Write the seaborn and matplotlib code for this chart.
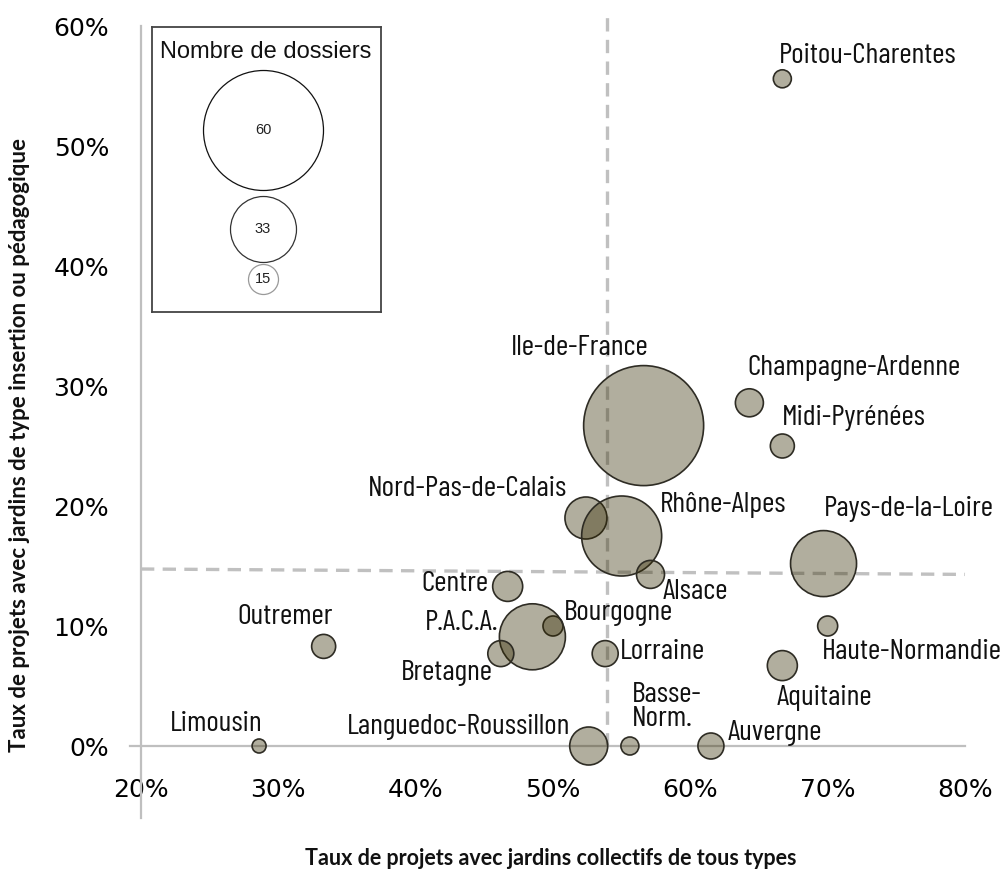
import numpy as np
import pandas as pd
import matplotlib
matplotlib.use("Agg")
import matplotlib.pyplot as plt
import seaborn as sns
from matplotlib.ticker import PercentFormatter

# data
regions = ["Poitou-Charentes", "Ile-de-France", "Champagne-Ardenne", "Midi-Pyrénées",
           "Nord-Pas-de-Calais", "Rhône-Alpes", "Pays-de-la-Loire", "Alsace", "Centre",
           "Bourgogne", "Outremer", "P.A.C.A.", "Lorraine", "Bretagne", "Haute-Normandie",
           "Aquitaine", "Basse-\nNorm.", "Auvergne", "Languedoc-Roussillon", "Limousin"]
taux_collectifs = [0.667, 0.566, 0.643, 0.667, 0.524, 0.550, 0.697, 0.571, 0.467, 0.500,
                   0.333, 0.485, 0.538, 0.462, 0.700, 0.667, 0.556, 0.615, 0.526, 0.286]
taux_insertion = [0.556, 0.267, 0.286, 0.250, 0.190, 0.175, 0.152, 0.143, 0.133, 0.100,
                  0.083, 0.091, 0.077, 0.077, 0.100, 0.067, 0.0, 0.0, 0.0, 0.0]
nb_dossiers = [9, 60, 14, 12, 21, 40, 33, 14, 15, 10, 12, 33, 13, 13, 10, 15, 9, 13, 19, 7]
legend_sizes = [60, 33, 15]
moyenne_x = 0.539
moyenne_y = [0.1475, 0.143]

# label placement (offset in pixels from bubble centre, alignment)
label_pos = [(-3, 23, "left"), (-64, 78, "center"), (-2, 35, "left"), (0, 28, "left"),
             (-19, 29, "right"), (38, 31, "left"), (0, 55, "left"), (12, -18, "left"),
             (-19, 2, "right"), (11, 13, "left"), (9, 29, "right"), (-34, 14, "right"),
             (15, 2, "left"), (-8, -19, "right"), (-6, -26, "left"), (-6, -32, "left"),
             (2, 39, "left"), (17, 13, "left"), (-18, 19, "right"), (-43, 22, "center")]

df = pd.DataFrame({"region": regions, "x": taux_collectifs, "y": taux_insertion,
                   "n": nb_dossiers})
df["n2"] = df["n"] ** 2

sns.set_style("white")
plt.rcParams["font.family"] = ["DejaVu Sans"]

narrow = ["Barlow Condensed", "Archivo Narrow", "DejaVu Sans"]
boldfam = ["Lato", "DejaVu Sans"]

W, H = 1002, 872
fig = plt.figure(figsize=(W / 100, H / 100), dpi=100)
ax = fig.add_axes([130 / W, 1 - 818 / H, 835 / W, 792 / H])

K = 2.0736  # pt^2 per dossier^2 (radius in px ~ number of dossiers)
nmin, nmax = df["n2"].min(), df["n2"].max()
sns.scatterplot(data=df, x="x", y="y", size="n2", sizes=(K * nmin, K * nmax),
                size_norm=(nmin, nmax), legend=False, ax=ax, clip_on=False,
                edgecolor="#2e2c24", linewidth=1.2, zorder=3)
pts = ax.collections[0]
pts.set_facecolor((52 / 255, 42 / 255, 0, 0.38))

ax.set_xlim(0.192, 0.80)
ax.set_ylim(-0.06, 0.60)

for sp in ["top", "right"]:
    ax.spines[sp].set_visible(False)
ax.spines["left"].set_position(("data", 0.2))
ax.spines["bottom"].set_position(("data", 0))
for sp in ["left", "bottom"]:
    ax.spines[sp].set_color("#bfbfbf")
    ax.spines[sp].set_linewidth(1.6)

ax.set_xticks(np.arange(0.2, 0.81, 0.1))
ax.set_yticks(np.arange(0, 0.61, 0.1))
ax.xaxis.set_major_formatter(PercentFormatter(1, decimals=0))
ax.yaxis.set_major_formatter(PercentFormatter(1, decimals=0))
ax.tick_params(axis="both", direction="out", length=8, width=1.2, color="#bfbfbf",
               labelsize=18, labelcolor="black")
ax.tick_params(axis="x", pad=15)
ax.tick_params(axis="y", pad=15)
ax.set_xlabel("")
ax.set_ylabel("")

# reference dashed lines
ax.plot([moyenne_x, moyenne_x], [0, 0.6125], color="#c0c0c0", lw=2.4,
        ls=(0, (4, 2.5)), clip_on=False, zorder=2)
ax.plot([0.2, 0.8], moyenne_y, color="#c0c0c0", lw=2.4, ls=(0, (4, 2.5)),
        clip_on=False, zorder=2)

for (name, xv, yv), (dx, dy, ha) in zip(zip(regions, taux_collectifs, taux_insertion), label_pos):
    ax.annotate(name, (xv, yv), xytext=(dx, dy), textcoords="offset pixels",
                ha=ha, va="center", fontsize=21.5, family=narrow, color="#111111",
                linespacing=0.9, zorder=4, annotation_clip=False)

fig.text(20 / W, 1 - 445 / H, "Taux de projets avec jardins de type insertion ou pédagogique",
         rotation=90, ha="center", va="center", fontsize=16, fontweight="bold",
         family=boldfam, color="#111111")
fig.text(551 / W, 1 - 858 / H, "Taux de projets avec jardins collectifs de tous types",
         ha="center", va="center", fontsize=15.5, fontweight="bold",
         family=boldfam, color="#111111")

# bubble size legend
lax = fig.add_axes([152 / W, 1 - 312 / H, 229 / W, 285 / H])
lax.set_xlim(0, 229)
lax.set_ylim(285, 0)
lax.set_xticks([])
lax.set_yticks([])
for sp in lax.spines.values():
    sp.set_color("#444444")
    sp.set_linewidth(1.3)
lax.set_facecolor("white")
leg_y = [103, 202, 252]
leg_edge = ["#111111", "#333333", "#999999"]
for v, yy, ec in zip(legend_sizes, leg_y, leg_edge):
    lax.scatter([111], [yy], s=K * v ** 2, facecolor="white", edgecolor=ec,
                linewidth=0.9, clip_on=False)
    lax.text(111, yy, str(v), ha="center", va="center", fontsize=10.5,
             family="Liberation Sans", color="#222222")
lax.text(114, 25, "Nombre de dossiers", ha="center", va="center", fontsize=17,
         family="Liberation Sans", color="#111111")

fig.savefig("out.png", dpi=100)
